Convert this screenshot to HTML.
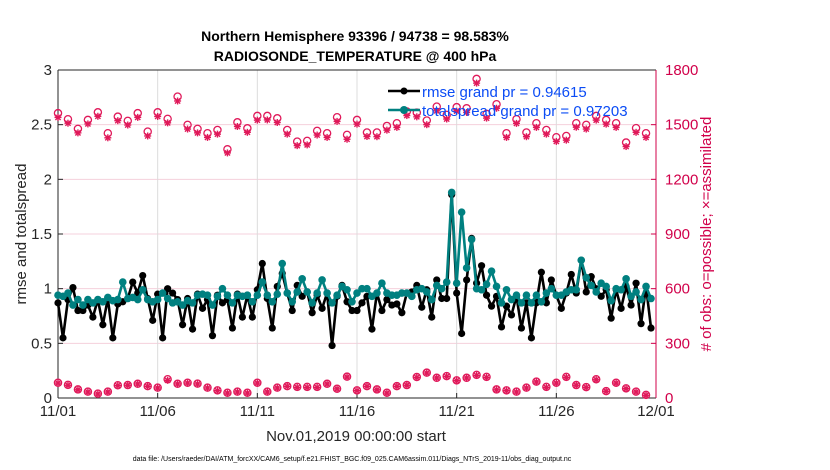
<!DOCTYPE html>
<html><head><meta charset="utf-8">
<style>
body{margin:0;background:#fff;}
svg{display:block;font-family:"Liberation Sans",Arial,sans-serif;}
</style></head>
<body>
<svg id="chart" width="830" height="470" viewBox="0 0 830 470">
<text x="355" y="41" text-anchor="middle" font-size="14" font-weight="bold">Northern Hemisphere 93396 / 94738 = 98.583%</text>
<text x="355" y="61" text-anchor="middle" font-size="14" font-weight="bold">RADIOSONDE_TEMPERATURE @ 400 hPa</text>
<g id="grid"></g>
<g id="axes"></g>
<g id="marks"></g>
<text transform="translate(26,234) rotate(-90)" text-anchor="middle" font-size="15" fill="#262626">rmse and totalspread</text>
<text transform="translate(711,234) rotate(-90)" text-anchor="middle" font-size="15" fill="#d1004a"># of obs: o=possible; ×=assimilated</text>
<text x="356" y="441" text-anchor="middle" font-size="15" fill="#262626">Nov.01,2019 00:00:00 start</text>
<text x="352" y="461" text-anchor="middle" font-size="7" fill="#000">data file: /Users/raeder/DAI/ATM_forcXX/CAM6_setup/f.e21.FHIST_BGC.f09_025.CAM6assim.011/Diags_NTrS_2019-11/obs_diag_output.nc</text>
<g id="legend"></g>
</svg>
<script>
const leftTicks=[0,0.5,1,1.5,2,2.5,3];
const leftTickLabels=["0","0.5","1","1.5","2","2.5","3"];
const rightTicks=[0,300,600,900,1200,1500,1800];
const xTickDays=[0,5,10,15,20,25,30];
const xTickLabels=["11/01","11/06","11/11","11/16","11/21","11/26","12/01"];
const rmse=[0.87,0.55,0.90,1.01,0.80,0.80,0.85,0.74,0.90,0.67,0.91,0.55,0.86,0.88,0.91,1.06,0.96,1.12,0.91,0.71,0.95,0.55,1.00,0.96,0.90,0.67,0.91,0.63,0.95,0.82,0.90,0.57,0.94,0.87,0.90,0.64,0.95,0.74,0.94,0.74,0.99,1.23,0.91,0.64,1.02,1.14,0.96,0.80,1.03,0.93,0.97,0.78,0.94,0.82,0.96,0.48,0.93,1.03,0.88,0.80,
0.80,0.87,0.93,0.63,0.96,0.80,0.90,0.85,0.86,0.78,0.96,0.97,1.03,0.83,0.99,0.74,1.08,0.91,0.91,1.86,0.96,0.59,1.08,1.46,1.05,1.21,0.94,0.84,0.93,0.65,0.84,0.76,0.93,0.64,0.87,0.55,0.87,1.15,0.87,1.08,0.94,0.82,0.96,1.13,0.96,1.26,0.97,1.11,1.00,0.93,0.99,0.73,0.99,0.82,1.02,0.85,1.05,0.68,1.02,0.64];
const spread=[0.94,0.93,0.96,0.85,0.90,0.85,0.90,0.87,0.90,0.88,0.92,0.89,0.90,1.06,0.91,0.92,0.90,0.99,0.90,0.88,0.90,0.96,0.91,0.87,0.88,0.85,0.89,0.87,0.94,0.95,0.94,0.85,0.93,1.00,0.94,0.87,0.94,0.93,0.94,0.88,0.94,1.06,0.94,0.88,0.95,1.23,0.96,0.88,0.97,1.09,0.97,0.87,0.96,1.08,0.96,0.87,0.94,1.02,0.99,0.88,
0.96,1.00,1.00,0.93,0.96,1.05,0.96,0.94,0.94,0.96,0.96,0.93,0.99,1.00,0.97,0.90,1.03,1.00,1.06,1.88,1.05,1.70,1.19,1.45,1.00,0.99,1.04,1.16,1.02,0.87,0.99,0.90,0.94,0.87,0.94,0.87,0.94,0.88,0.96,1.00,0.94,0.94,0.97,0.99,0.99,1.26,1.10,1.03,0.97,1.05,1.02,0.89,1.00,0.99,1.09,0.93,0.97,0.90,1.02,0.91];
const possibleTop=[1563,1530,1477,1526,1568,1453,1544,1521,1563,1462,1568,1532,1654,1499,1477,1453,1471,1365,1513,1480,1548,1548,1535,1471,1407,1411,1466,1453,1541,1444,
1526,1457,1457,1493,1508,1572,1566,1523,1599,1554,1596,1590,1751,1559,1612,1453,1530,1457,1508,1471,1431,1438,1508,1499,1548,1526,1508,1402,1481,1453];
const assimTop=[1540,1508,1455,1504,1546,1428,1522,1498,1540,1438,1545,1510,1630,1476,1455,1430,1448,1345,1490,1458,1525,1526,1512,1448,1385,1389,1443,1430,1518,1420,
1503,1435,1434,1470,1485,1550,1543,1500,1576,1531,1574,1567,1728,1536,1590,1430,1507,1434,1485,1448,1408,1415,1486,1476,1525,1503,1485,1380,1458,1430];
const assimBottom=[82,70,45,33,22,33,68,70,77,64,55,97,77,82,77,55,40,27,33,27,82,33,55,64,58,58,58,77,50,115,40,64,45,27,64,70,113,137,110,118,95,110,124,113,45,40,33,55,88,58,82,113,70,58,100,37,82,51,33,15];
const possibleBottom=[84,72,47,35,24,35,70,71,78,65,57,103,78,84,79,57,42,29,35,29,84,35,57,65,61,61,61,78,51,117,42,65,47,29,65,71,115,139,111,120,97,111,127,116,47,42,35,57,90,61,84,116,71,60,103,38,84,53,35,17];

const NS="http://www.w3.org/2000/svg";
const X0=58,X1=656,Y0=398,Y1=70;
function xDay(d){return X0+(X1-X0)*d/30;}
function yL(v){return Y0-(Y0-Y1)*v/3;}
function yR(v){return Y0-(Y0-Y1)*v/1800;}
function mk(tag,attrs,parent){const e=document.createElementNS(NS,tag);for(const k in attrs)e.setAttribute(k,attrs[k]);parent.appendChild(e);return e;}
const grid=document.getElementById('grid'),axes=document.getElementById('axes'),marks=document.getElementById('marks'),legend=document.getElementById('legend');
const RED="#d1004a",OBS="#e0195a";
rightTicks.forEach((t,i)=>{
  if(i>0&&i<rightTicks.length-1){const l=mk('line',{x1:X0,x2:X1,y1:yR(t),y2:yR(t),stroke:'#f4d0dc','stroke-width':1},grid);
  
  }
  const tl=mk('line',{x1:X1-5,x2:X1,y1:yR(t),y2:yR(t),stroke:RED,'stroke-width':1},axes);
  
  
  const tx=mk('text',{x:X1+9,y:yR(t)+5,'font-size':15,fill:RED},axes);tx.textContent=t;
  
  
});
xTickDays.forEach((d,i)=>{
  if(i>0&&i<xTickDays.length-1){const l=mk('line',{x1:xDay(d),x2:xDay(d),y1:Y1,y2:Y0,stroke:'#dcdcdc','stroke-width':1},grid);
  
  }
  const tl=mk('line',{x1:xDay(d),x2:xDay(d),y1:Y0,y2:Y0-5,stroke:'#262626'},axes);
  
  
  const tx=mk('text',{x:xDay(d),y:Y0+18,'font-size':15,'text-anchor':'middle',fill:'#262626'},axes);tx.textContent=xTickLabels[i];
  
  
});
leftTicks.forEach((t,i)=>{
  const tl=mk('line',{x1:X0,x2:X0+5,y1:yL(t),y2:yL(t),stroke:'#262626'},axes);
  
  
  const tx=mk('text',{x:X0-6,y:yL(t)+5,'font-size':15,'text-anchor':'end',fill:'#262626'},axes);tx.textContent=leftTickLabels[i];
  
  
});
const ax1=mk('line',{x1:X0,x2:X1,y1:Y1,y2:Y1,stroke:'#262626'},axes);


const ax2=mk('line',{x1:X0,x2:X1,y1:Y0,y2:Y0,stroke:'#262626'},axes);


const ax3=mk('line',{x1:X0,x2:X0,y1:Y1,y2:Y0,stroke:'#262626'},axes);


const ax4=mk('line',{x1:X1,x2:X1,y1:Y1,y2:Y0,stroke:RED},axes);



function star(cx,cy,name){
  const g=mk('g',{stroke:OBS,'stroke-width':1.4},marks);
  
  
  mk('line',{x1:cx-3.5,x2:cx+3.5,y1:cy,y2:cy},g);
  mk('line',{x1:cx,x2:cx,y1:cy-3.5,y2:cy+3.5},g);
  mk('line',{x1:cx-2.6,x2:cx+2.6,y1:cy-2.6,y2:cy+2.6},g);
  mk('line',{x1:cx-2.6,x2:cx+2.6,y1:cy+2.6,y2:cy-2.6},g);
}
function circ(cx,cy,name){
  const c=mk('circle',{cx:cx,cy:cy,r:3.6,fill:'none',stroke:OBS,'stroke-width':1.3},marks);
  
  
}
possibleTop.forEach((v,i)=>{circ(xDay(i*0.5),yR(v),'obs-possible-top');});
assimTop.forEach((v,i)=>{star(xDay(i*0.5),yR(v),'obs-assimilated-top');});
possibleBottom.forEach((v,i)=>{circ(xDay(i*0.5),yR(v),'obs-possible-bottom');});
assimBottom.forEach((v,i)=>{star(xDay(i*0.5),yR(v),'obs-assimilated-bottom');});

function series(vals,color,r,name){
  const pts=vals.map((v,i)=>xDay(i*0.25).toFixed(2)+','+yL(v).toFixed(2)).join(' ');
  const pl=mk('polyline',{points:pts,fill:'none',stroke:color,'stroke-width':2.6,'stroke-linejoin':'round'},marks);
  
  
  vals.forEach((v,i)=>{const c=mk('circle',{cx:xDay(i*0.25),cy:yL(v),r:r,fill:color},marks);
    
    });
}
series(rmse,'#000',3.6,'rmse');
series(spread,'#008080',3.8,'totalspread');

// legend drawn on top, no background box
const l1=mk('line',{x1:388,y1:91,x2:420,y2:91,stroke:'#000','stroke-width':2.5},legend);


const m1=mk('circle',{cx:404,cy:91,r:3.5,fill:'#000'},legend);


const t1=mk('text',{x:422,y:97,'font-size':15,fill:'#0b4cf5'},legend);t1.textContent='rmse grand pr = 0.94615';


const l2=mk('line',{x1:388,y1:110,x2:420,y2:110,stroke:'#008080','stroke-width':2.5},legend);


const m2=mk('circle',{cx:404,cy:110,r:4,fill:'#008080'},legend);


const t2=mk('text',{x:422,y:116,'font-size':15,fill:'#0b4cf5'},legend);t2.textContent='totalspread grand pr = 0.97203';


document.getElementById('chart').appendChild(legend);
</script>
</body></html>
